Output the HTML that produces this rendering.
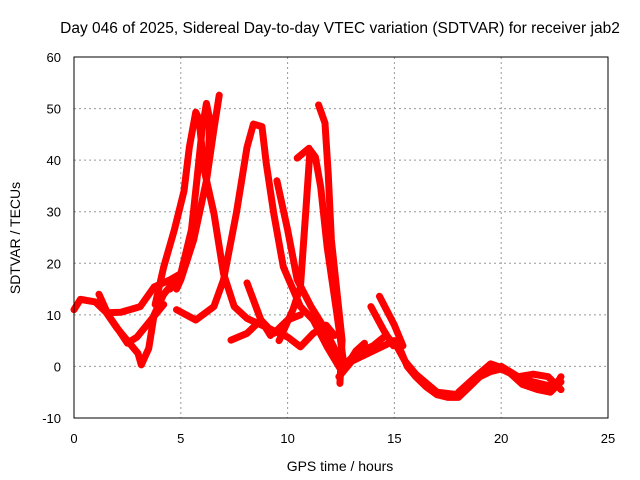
<!DOCTYPE html>
<html><head><meta charset="utf-8"><style>
body{margin:0;background:#fff;}
svg{display:block;font-family:"Liberation Sans",sans-serif;}
</style></head><body>
<svg id="chart" width="640" height="480">
<rect width="640" height="480" fill="#fff"/>
<text x="340" y="33" font-size="15.5" text-anchor="middle">Day 046 of 2025, Sidereal Day-to-day VTEC variation (SDTVAR) for receiver jab2</text>
<text x="340" y="471" font-size="14" text-anchor="middle">GPS time / hours</text>
<text transform="translate(20,238) rotate(-90)" font-size="14" text-anchor="middle">SDTVAR / TECUs</text>
<g id="grid"></g><g id="ticks"></g><g id="series"></g>
<rect x="74" y="57" width="534" height="361" fill="none" stroke="#000" stroke-width="1"/>
</svg>
<script>
const xTicks=[0,5,10,15,20,25];
const yTicks=[-10,0,10,20,30,40,50,60];
const tracks=[
[[0,11],[0.3,13],[1,12.5],[1.5,10.5],[2,7.5],[2.5,5],[3,2.5],[3.15,0.3],[3.5,3.5],[3.75,10],[4.2,14],[4.6,16]],
[[1.17,14],[1.6,10],[2.1,7],[2.5,4.5],[2.95,5.7],[3.6,9],[4.2,12]],
[[1.55,10.4],[2.2,10.5],[3.1,11.6],[3.75,15.4],[4.5,16.8],[5,18]],
[[3.8,12],[4.2,19.3],[4.7,26.5],[5.15,34],[5.4,42.5],[5.7,49.3],[5.85,48],[6.1,38],[6.55,29.7],[7.0,18],[7.5,11.6],[8.1,9.3],[9.0,7.6],[10,5.7],[10.6,3.8],[11.2,6.4],[11.8,8],[12.2,6]],
[[4.5,15],[5.0,18],[5.5,26.5],[5.75,36],[6.0,46],[6.2,51],[6.35,48],[6.3,40]],
[[4.8,15],[5.0,16.8],[5.6,24.5],[6.2,36],[6.55,46],[6.8,52.6]],
[[4.8,11],[5.7,9],[6.55,11.6],[7.0,16.8],[7.6,29.7],[8.1,42.5],[8.4,47],[8.8,46.5],[9.0,39.4],[9.35,29.7],[9.8,19.3],[10.6,11.6],[11.2,9],[11.85,3.8],[12.5,-0.7]],
[[9.5,36],[10,26.5],[10.45,16.8],[11.1,11.6],[11.7,7.6],[12.3,2.6],[12.6,0]],
[[9.6,5],[10.25,11],[10.6,15.4],[10.85,30],[11.05,42],[11.3,40.6],[11.55,34.8],[11.85,23.2],[12.3,10.4],[12.65,-0.1]],
[[10.45,40.4],[11.0,42.3]],
[[11.45,50.7],[11.75,47.2],[11.9,37.5],[12.05,24.5],[12.3,14.8],[12.55,5.1],[12.45,-3.3]],
[[7.35,5.1],[8.1,6.4],[8.75,9],[9.35,6.4],[10,9],[10.6,10]],
[[8.1,16.2],[8.75,9],[9.2,6]],
[[12.4,-2],[13,1],[13.5,2],[14,3],[14.5,4],[15,5],[15.3,3],[15.6,0],[16,-2],[16.5,-4],[17,-5.5],[17.5,-6],[18,-6],[18.5,-4],[19,-2],[19.5,-1],[20,-0.5],[20.5,-1.5],[21,-2.5],[21.5,-3],[22,-3.5],[22.5,-4],[22.8,-2]],
[[12.6,0],[13.2,2.5],[14,4],[14.6,6],[15.1,4],[15.5,1],[16,-1.5],[17,-5],[18,-5.5],[18.6,-3],[19.3,-1],[20,0],[20.8,-2],[21.5,-1.5],[22.2,-2],[22.8,-4.5]],
[[18,-5],[18.8,-2],[19.5,0.5],[20.2,-0.5],[21,-3.5],[21.7,-4.5],[22.3,-5],[22.8,-3]],
[[13.9,11.6],[14.5,7],[14.95,4]],
[[14.3,13.6],[15.0,8],[15.4,4]],
[[12.6,-1],[13.2,3],[13.6,4.5]]
];
const X=v=>74+v*21.36, Y=v=>57+(60-v)*5.157;
const NS="http://www.w3.org/2000/svg";
const g=document.getElementById('grid'),t=document.getElementById('ticks'),s=document.getElementById('series');
function mk(tag,attrs,parent){const e=document.createElementNS(NS,tag);for(const k in attrs)e.setAttribute(k,attrs[k]);parent.appendChild(e);return e;}
xTicks.forEach(v=>{
 if(v>0&&v<25){const l=mk('line',{x1:X(v),x2:X(v),y1:57,y2:418,stroke:'#999','stroke-dasharray':'2,3'},g);
 
 }
 const tx=mk('text',{x:X(v),y:443,'font-size':13,'text-anchor':'middle'},t);tx.textContent=v;
 
 
});
yTicks.forEach(v=>{
 if(v>-10&&v<60){const l=mk('line',{x1:74,x2:608,y1:Y(v),y2:Y(v),stroke:'#999','stroke-dasharray':'2,3'},g);
 
 }
 const tx=mk('text',{x:61,y:Y(v)+5,'font-size':13,'text-anchor':'end'},t);tx.textContent=v;
 
 
});
tracks.forEach(tr=>{
 const p=mk('polyline',{points:tr.map(q=>X(q[0])+','+Y(q[1])).join(' '),fill:'none',stroke:'#f00','stroke-width':7,'stroke-linejoin':'round','stroke-linecap':'round'},s);
 
 
});
</script>
</body></html>
